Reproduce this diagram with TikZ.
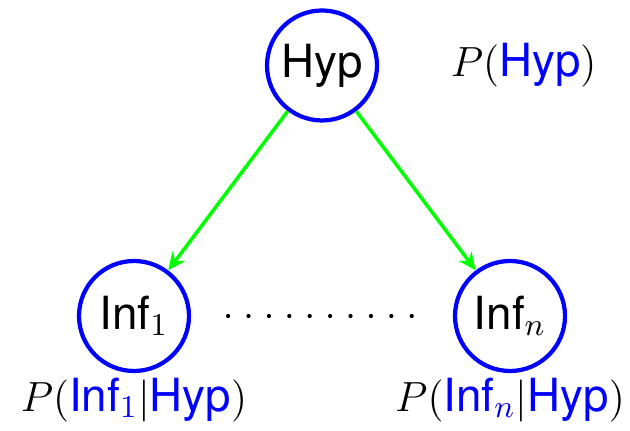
\documentclass[12pt,tikz,border=0pt]{standalone}
\usepackage[no-math]{fontspec}
\setmainfont{TeX Gyre Heros}
\usetikzlibrary{positioning,arrows.meta}
\begin{document}
\begin{tikzpicture}[
  font=\fontsize{13}{16}\selectfont,
  knoten/.style={circle,draw=blue,line width=1.2pt,minimum size=1.10cm,inner sep=0pt},
  pfeil/.style={-{Stealth[length=5pt,width=4.5pt]},green,line width=1pt},
  wahrsch/.style={inner sep=0pt},
  punkte/.style={line width=1.2pt,line cap=round,dash pattern=on 0pt off 0.204cm,shorten <=0.37cm,shorten >=0.37cm}
]
\useasboundingbox (0,0) rectangle (6.3,4.31);
% Hypothese oben
\node[knoten] (hyp) at (3.22,3.655) {Hyp};
\node[wahrsch,right=0.71cm of hyp] (phyp) {$P($\textcolor{blue}{Hyp}$)$};
% Informationen unten
\node[knoten] (inf1) at (1.34,1.15) {Inf$_1$};
\node[knoten] (infn) at (5.10,1.15) {Inf$_n$};
\node[wahrsch,below=0.04cm of inf1] (pinf1) {$P($\textcolor{blue}{Inf$_1$}$|$\textcolor{blue}{Hyp}$)$};
\node[wahrsch,below=0.04cm of infn] (pinfn) {$P($\textcolor{blue}{Inf$_n$}$|$\textcolor{blue}{Hyp}$)$};
% Pfeile und Punkte
\draw[pfeil] (hyp) -- (inf1);
\draw[pfeil] (hyp) -- (infn);
\draw[punkte] (inf1) -- (infn);
\end{tikzpicture}
\end{document}
